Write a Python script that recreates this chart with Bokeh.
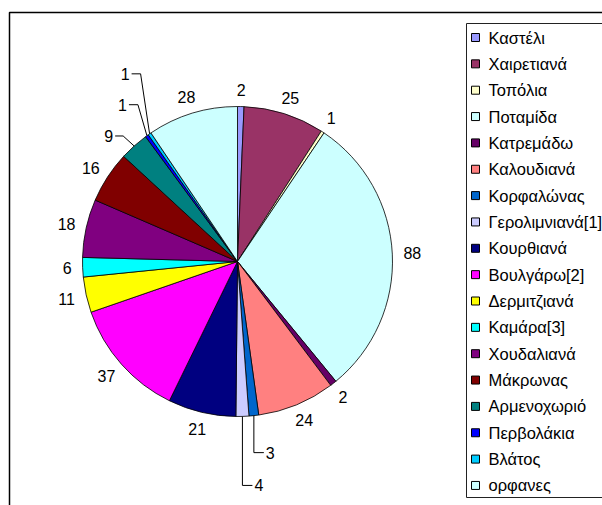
import numpy as np
from bokeh.plotting import figure
from bokeh.models import Range1d, ColumnDataSource
from bokeh.core.properties import value
from bokeh.embed import file_html
from bokeh.resources import INLINE

# ---- data ----
names = ["Καστέλι", "Χαιρετιανά", "Τοπόλια", "Ποταμίδα", "Κατρεμάδω", "Καλουδιανά",
         "Κορφαλώνας", "Γερολιμνιανά[1]", "Κουρθιανά", "Βουλγάρω[2]", "Δερμιτζιανά",
         "Καμάρα[3]", "Χουδαλιανά", "Μάκρωνας", "Αρμενοχωριό", "Περβολάκια", "Βλάτος", "ορφανες"]
values = [2, 25, 1, 88, 2, 24, 3, 4, 21, 37, 11, 6, 18, 16, 9, 1, 1, 28]
colors = ["#9999FF", "#993366", "#FFFFCC", "#CCFFFF", "#660066", "#FF8080",
          "#0066CC", "#CCCCFF", "#000080", "#FF00FF", "#FFFF00",
          "#00FFFF", "#800080", "#800000", "#008080", "#0000FF", "#00CCFF", "#CCFFFF"]

# ---- layout / style ----
W, H = 602, 505
CX, CY, R = 237, 244, 155
GAP = 11
FONT = value("Liberation Sans")
FS = "16.5px"
# leader-line labels: index -> (elbow dx, elbow dy (down), horizontal length)
leaders = {6: (0, 37, 10), 7: (0, 69, 10), 14: (-11, -10, -8), 15: (-9, -31, -9), 16: (-9, -60, -9)}

p = figure(width=W, height=H, x_range=Range1d(0, W), y_range=Range1d(0, H),
           x_axis_type=None, y_axis_type=None, output_backend="svg",
           toolbar_location=None, min_border=0)
p.grid.visible = False
p.outline_line_color = None
p.background_fill_color = "white"
p.border_fill_color = "white"

# chart frame (extends beyond view)
p.line(x=[9, 9, 900], y=[-50, 493, 493], line_color="black", line_width=1.5)

vals = np.array(values, dtype=float)
tot = vals.sum()
cum = np.concatenate([[0], np.cumsum(vals)])
th0 = 2 * np.pi * cum[:-1] / tot
th1 = 2 * np.pi * cum[1:] / tot
src = ColumnDataSource(dict(start=np.pi / 2 - th1, end=np.pi / 2 - th0, color=colors))
p.wedge(x=CX, y=CY, radius=R, start_angle="start", end_angle="end", direction="anticlock",
        fill_color="color", line_color="black", line_width=0.8, source=src)

# data labels
mid = (th0 + th1) / 2
lx, ly, la, lines_x, lines_y = [], [], [], [], []
for i, v in enumerate(values):
    dx, dy = np.sin(mid[i]), np.cos(mid[i])
    if i in leaders:
        ex, ey, hl = leaders[i]
        ax, ay = CX + R * dx, CY + R * dy
        bx, by = ax + ex, ay - ey
        endx = bx + hl
        lines_x.append([ax, bx, endx])
        lines_y.append([ay, by, by])
        lx.append(endx + (2 if hl > 0 else -2))
        ly.append(by)
        la.append("left" if hl > 0 else "right")
    else:
        w = 9 * len(str(v))
        h = 12
        lx.append(CX + dx * (R + GAP) + dx * w / 2)
        ly.append(CY + dy * (R + GAP) + dy * h / 2)
        la.append("center")

p.multi_line(xs=lines_x, ys=lines_y, line_color="black", line_width=1)
p.text(x=lx, y=ly, text=[str(v) for v in values], text_align=la, text_baseline="middle",
       text_font=FONT, text_font_size="16px", text_color="black")

# legend box (right side runs off the view)
p.line(x=[900, 466, 466, 900], y=[482, 482, 8, 8], line_color="#222222", line_width=1)
idx = np.arange(len(names))
leg_y = 468 - idx * 26.35
p.scatter(x=[475] * len(names), y=leg_y, marker="square", size=8,
          fill_color=colors, line_color="black", line_width=1)
p.text(x=[488] * len(names), y=leg_y, text=names, text_align="left", text_baseline="middle",
       text_font=FONT, text_font_size=FS, text_color="black")

open("out.html", "w").write(file_html(p, INLINE))
